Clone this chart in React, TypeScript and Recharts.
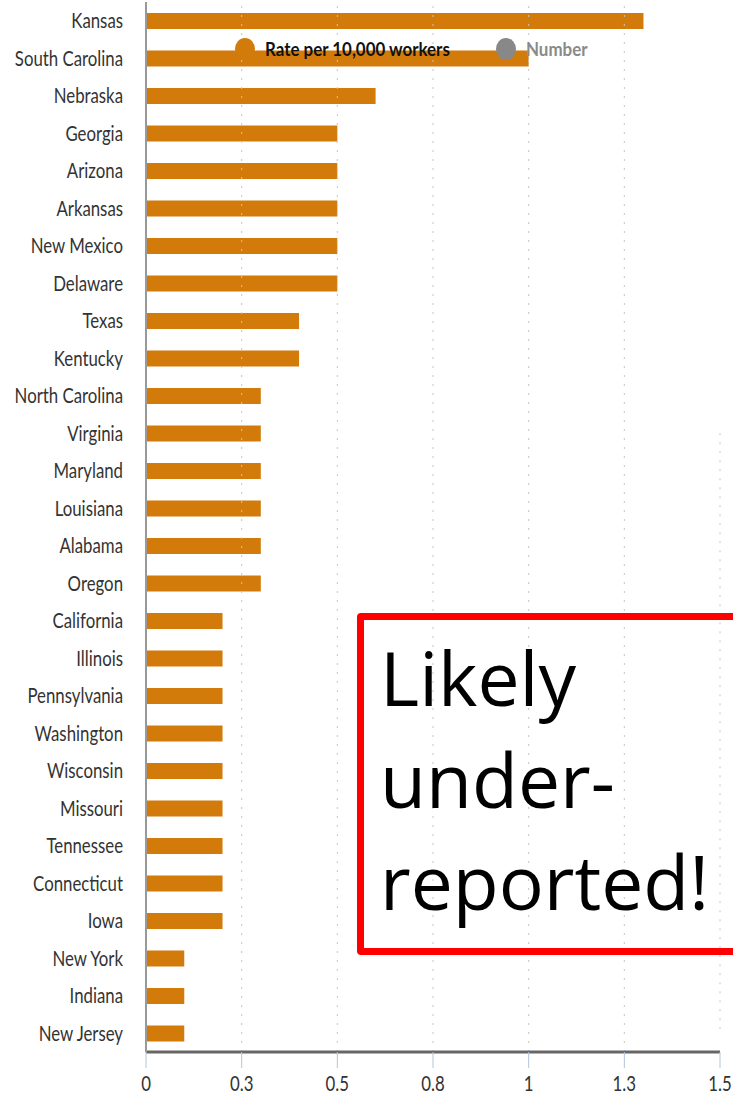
import React from "react";
import { BarChart, Bar, XAxis, YAxis, ReferenceLine } from "recharts";

const states = [
  "Kansas", "South Carolina", "Nebraska", "Georgia", "Arizona", "Arkansas", "New Mexico",
  "Delaware", "Texas", "Kentucky", "North Carolina", "Virginia", "Maryland", "Louisiana",
  "Alabama", "Oregon", "California", "Illinois", "Pennsylvania", "Washington", "Wisconsin",
  "Missouri", "Tennessee", "Connecticut", "Iowa", "New York", "Indiana", "New Jersey",
];
const rates = [
  1.3, 1.0, 0.6, 0.5, 0.5, 0.5, 0.5,
  0.5, 0.4, 0.4, 0.3, 0.3, 0.3, 0.3,
  0.3, 0.3, 0.2, 0.2, 0.2, 0.2, 0.2,
  0.2, 0.2, 0.2, 0.2, 0.1, 0.1, 0.1,
];
const xTicks = [0, 0.25, 0.5, 0.75, 1, 1.25, 1.5];
const xTickLabels = ["0", "0.3", "0.5", "0.8", "1", "1.3", "1.5"];
const legendItems = [
  { name: "Rate per 10,000 workers", color: "#d27b0a", text: "#111" },
  { name: "Number", color: "#888888", text: "#8a8a8a" },
];
const noteLines = ["Likely", "under-", "reported!"];

const ORANGE = "#d27b0a";
const FONT = "Lato, sans-serif";
const SQUEEZE = 0.8; // the original labels are a narrow font

function StateTick({ x, y, payload }: any) {
  return (
    <text
      transform={`translate(${x},${y}) scale(${SQUEEZE},1)`}
      textAnchor="end"
      dy="0.35em"
      fill="#333"
      fontSize={21}
      fontFamily={FONT}
    >
      {payload.value}
    </text>
  );
}

function RateTick({ x, y, payload }: any) {
  const label = xTickLabels[xTicks.indexOf(payload.value)] ?? String(payload.value);
  return (
    <text
      transform={`translate(${x},${y}) scale(${SQUEEZE},1)`}
      textAnchor="middle"
      dy="0.8em"
      fill="#333"
      fontSize={21}
      fontFamily={FONT}
    >
      {label}
    </text>
  );
}

export default function App() {
  const data = states.map((s, i) => ({ state: s, rate: rates[i] }));

  return (
    <div style={{ position: "absolute", left: 0, top: 0, width: 733, height: 1100, overflow: "hidden", background: "#fff" }}>
      <BarChart
        width={733}
        height={1100}
        data={data}
        layout="vertical"
        margin={{ top: 2, right: 13, bottom: 0, left: 6 }}
        barCategoryGap={0}
      >
        {xTicks.slice(1, -1).map((t) => (
          <ReferenceLine key={t} x={t} stroke="#c4c4c4" strokeDasharray="2 7" />
        ))}
        <ReferenceLine
          segment={[{ x: 1.5, y: "Virginia" }, { x: 1.5, y: "New Jersey" }]}
          stroke="#c4c4c4"
          strokeDasharray="2 7"
        />
        <XAxis
          type="number"
          domain={[0, 1.5]}
          ticks={xTicks}
          height={48}
          tickSize={16}
          tickMargin={6}
          interval={0}
          axisLine={{ stroke: "#666", strokeWidth: 3 }}
          tickLine={{ stroke: "#b4c6da" }}
          tick={<RateTick />}
        />
        <YAxis
          type="category"
          dataKey="state"
          width={140}
          interval={0}
          tickLine={false}
          tickSize={0}
          tickMargin={23}
          axisLine={{ stroke: "#999", strokeWidth: 2 }}
          tick={<StateTick />}
        />
        <Bar dataKey="rate" fill={ORANGE} barSize={16} isAnimationActive={false} />
      </BarChart>

      {/* legend sits on top of the bars in the original */}
      {legendItems.map((it, i) => (
        <div
          key={it.name}
          style={{
            position: "absolute",
            left: i === 0 ? 235 : 496,
            top: 37,
            display: "flex",
            alignItems: "center",
            fontFamily: FONT,
            fontWeight: "bold",
            fontSize: 19,
            whiteSpace: "nowrap",
          }}
        >
          <span style={{ width: 20, height: 22, borderRadius: "50%", background: it.color, display: "inline-block", marginRight: 10 }} />
          <span style={{ color: it.text, display: "inline-block", transform: "scale(0.89,1)", transformOrigin: "left center" }}>
            {it.name}
          </span>
        </div>
      ))}

      <div
        style={{
          position: "absolute",
          left: 357,
          top: 613,
          width: 400,
          height: 322,
          border: "7px solid #ff0000",
          borderRadius: 4,
          paddingTop: 6,
          paddingLeft: 16,
          boxSizing: "content-box",
          fontFamily: '"Open Sans", sans-serif',
          fontSize: 75,
          lineHeight: "102px",
          color: "#000",
        }}
      >
        {noteLines.map((l) => (
          <div key={l}>{l}</div>
        ))}
      </div>
    </div>
  );
}
